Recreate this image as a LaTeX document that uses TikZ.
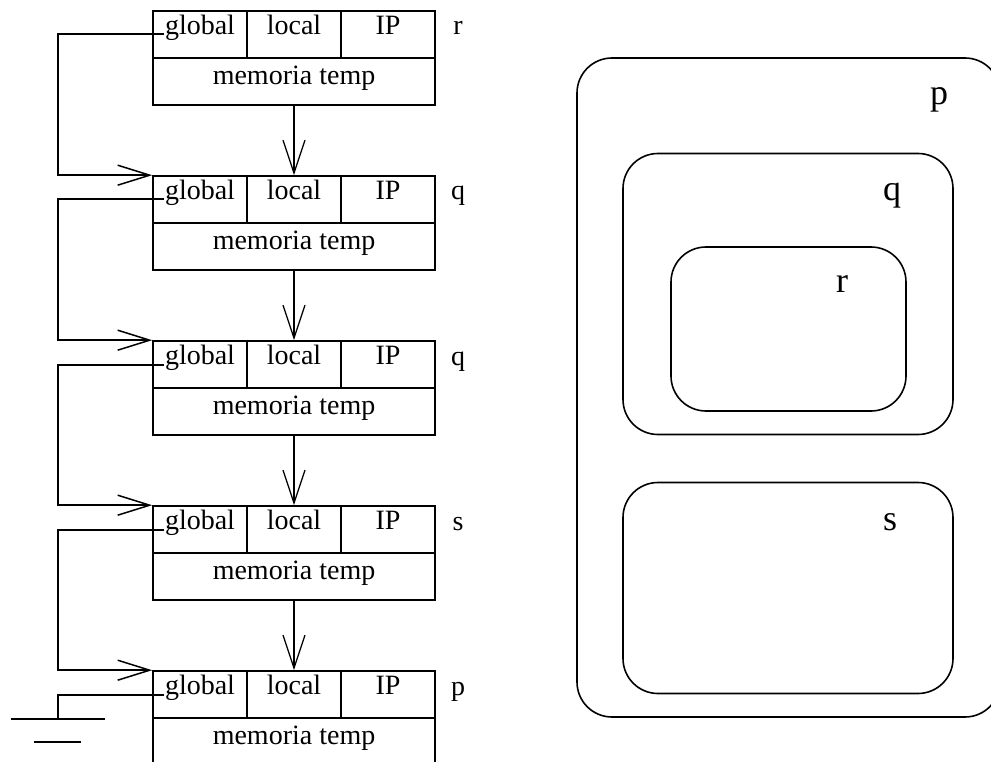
\documentclass[tikz,border=0pt]{standalone}
\usepackage{fontspec}
\setmainfont{Liberation Serif}
\usetikzlibrary{arrows.meta,calc}

\tikzset{
  cell/.style={draw, line width=1.6pt, rectangle, inner sep=0pt,
    minimum width=94pt, minimum height=47pt,
    font=\fontsize{28}{30}\selectfont, text height=10pt, text depth=10pt},
  memcell/.style={cell, minimum width=282pt, text height=12pt, text depth=6pt},
  tag/.style={anchor=base, inner sep=0pt, font=\fontsize{28}{30}\selectfont},
  settag/.style={anchor=base, inner sep=0pt, font=\fontsize{36}{38}\selectfont},
  setbox/.style={draw, line width=1.6pt, rectangle, rounded corners=35pt, inner sep=0pt},
  downarrow/.style={line width=1.3pt, -{Straight Barb[length=33pt, width=22pt, line width=1.3pt]}},
  link/.style={line width=2pt},
  linkarrow/.style={link, -{Straight Barb[length=32pt, width=20pt, line width=1.5pt]}},
}

\begin{document}
\begin{tikzpicture}[x=1pt, y=-1pt]
\useasboundingbox (0,0) rectangle (991,762);
\clip (0,0) rectangle (991,762);

% activation records on the stack
\foreach \i/\nm [count=\k from 0] in {1/r,2/q,3/q,4/s,5/p} {
  \pgfmathsetmacro{\top}{11+165*\k}
  \node[cell] (g\i) at (200,\top+23.5) {global};
  \node[cell] (l\i) at (294,\top+23.5) {local};
  \node[cell] (ip\i) at (388,\top+23.5) {IP};
  \node[memcell] (m\i) at (294,\top+70.5) {memoria temp};
  \node[tag] (t\i) at (458,\top+24) {\nm};
}

% control flow between records
\foreach \i/\j in {1/2,2/3,3/4,4/5} {
  \draw[downarrow] (m\i.south) -- (l\j.north);
}

% links from each global field to the enclosing record
\foreach \i/\j in {1/2,2/3,3/4,4/5} {
  \draw[linkarrow] ($(g\i.west)+(12,0)$) -- ++(-106,0) |- (g\j.north west);
}

% last link goes to ground
\draw[link] ($(g5.west)+(12,0)$) -- ++(-106,0) -- ++(0,24) coordinate (gnd);
\coordinate (gndA) at ($(gnd)+(-47,0)$);
\coordinate (gndB) at ($(gnd)+(47,0)$);
\coordinate (gndC) at ($(gnd)+(-24,23)$);
\coordinate (gndD) at ($(gnd)+(23,23)$);
\draw[link] (gndA) -- (gndB);
\draw[link] (gndC) -- (gndD);

% nested scopes
\node[setbox, minimum width=423pt, minimum height=659pt] (P) at (788.5,387.5) {};
\node[setbox, minimum width=330pt, minimum height=281pt] (Q) at (788,294) {};
\node[setbox, minimum width=235pt, minimum height=164pt] (R) at (788.5,329) {};
\node[setbox, minimum width=330pt, minimum height=211pt] (S) at (788,588) {};
\node[settag] (Pl) at (939,105) {p};
\node[settag] (Ql) at (892,201) {q};
\node[settag] (Rl) at (842,293) {r};
\node[settag] (Sl) at (890,530) {s};
\end{tikzpicture}
\end{document}
